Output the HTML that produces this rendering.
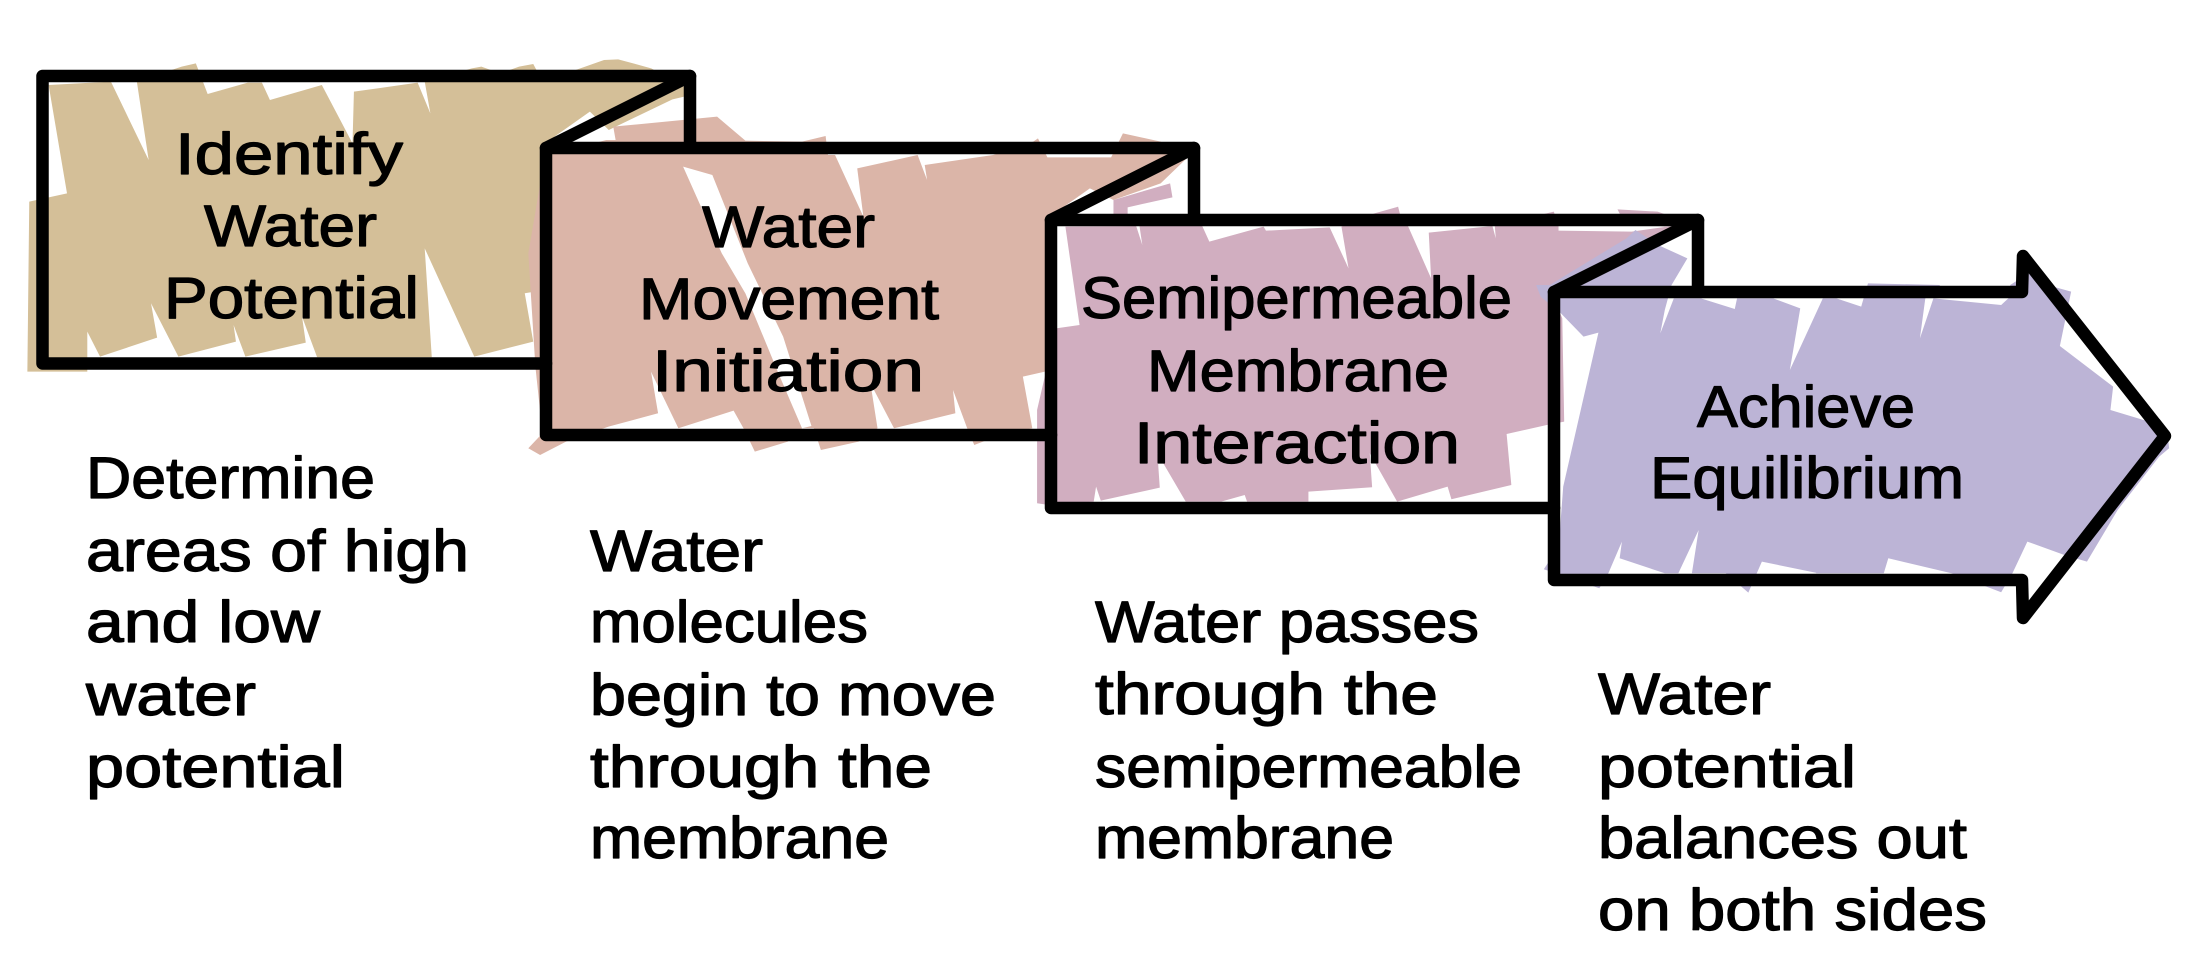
<!DOCTYPE html>
<html>
<head>
<meta charset="utf-8">
<style>
html,body{margin:0;padding:0;background:#fff;width:2208px;height:976px;overflow:hidden}
svg{display:block}
text{font-family:"Liberation Sans",sans-serif;font-size:58px;fill:#000;stroke:#000;stroke-width:1.2;stroke-linejoin:round}
</style>
</head>
<body>
<svg width="2208" height="976" viewBox="0 0 2208 976" xmlns="http://www.w3.org/2000/svg">
<rect width="2208" height="976" fill="#fff"/>

<g transform="translate(0,40) scale(.4719,.3333)">
<polygon fill="#d4bf98" points="103,135 235,125 315,360 290,125 385,80 415,70 430,125 440,162 525,128 555,128 572,180 682,135 747,310 750,155 885,128 912,220 900,125 1000,85 1020,80 1060,100 1100,80 1130,72 1150,125 1280,60 1310,58 1380,85 1450,140 1450,170 1425,178 1290,270 1250,215 1175,290 1200,740 1112,760 1130,905 1005,950 900,625 915,952 672,952 640,830 648,908 520,950 495,855 500,905 378,950 320,790 333,893 212,950 185,875 185,995 58,995 62,485 142,460"/>
</g>

<g transform="translate(500,120) scale(.4719,.3333)">
<polygon fill="#dbb5a8" points="95,110 225,60 245,60 240,20 460,-10 520,62 640,65 690,48 695,105 710,105 770,290 757,145 885,105 905,180 900,135 1045,105 1130,65 1140,55 1160,112 1295,112 1320,40 1400,65 1455,115 1400,190 1300,240 1250,205 1170,285 1170,750 1108,770 1128,925 1060,945 1005,975 990,925 960,810 965,880 835,925 785,790 800,925 760,965 680,990 665,925 640,925 610,965 540,995 518,930 495,872 378,925 320,755 335,880 230,920 140,965 85,1005 60,985 90,940 75,740 60,400"/>
<polygon fill="#fff" points="388,140 450,165 525,430 600,650 660,918 640,925 590,760 520,520 470,400"/>
<polygon fill="#d1aec0" points="1300,240 1420,190 1425,232 1330,262 1330,285 1300,285"/>
</g>

<g transform="translate(1030,190) scale(.4719,.3333)">
<polygon fill="#d1aec0" points="75,110 225,108 238,165 232,108 365,108 380,155 495,110 500,122 635,112 675,235 660,110 730,70 780,50 790,105 800,105 850,265 845,128 980,108 987,145 985,108 1110,65 1120,108 1120,122 1275,125 1360,108 1300,190 1100,290 1128,385 1132,695 1095,705 1010,732 1020,885 893,928 885,890 778,935 720,790 725,892 590,905 590,935 460,935 455,915 405,935 330,935 270,790 275,893 150,932 140,890 135,935 40,945 15,940 15,660 55,415 105,405"/>
<polygon fill="#d1aec0" points="1245,58 1250,72 1300,100 1345,110 1390,95 1330,65"/>
</g>

<g transform="translate(1500,230) scale(.4515,.3333)">
<polygon fill="#bcb4d6" points="110,165 80,165 90,200 135,250 185,320 218,308 140,770 130,950 97,1018 220,1075 240,1030 270,935 265,985 365,1030 395,1030 440,900 425,1030 500,1030 550,1088 580,995 705,1030 710,985 700,1030 850,1030 860,985 1000,1030 1110,1087 1135,1030 1168,935 1250,975 1300,995 1368,840 1460,680 1482,655 1480,630 1450,580 1352,540 1358,470 1240,348 1265,185 1225,170 1170,130 1130,165 1130,200 1110,225 960,205 930,325 942,205 975,165 815,160 800,230 745,205 715,205 642,420 665,235 605,205 525,205 520,237 445,205 385,205 355,310 365,240 380,165 415,85 350,45 300,0 280,25"/>
</g>

<g fill="none" stroke="#000" stroke-width="12.5" stroke-linecap="round" stroke-linejoin="round">
<path d="M546,363.5 L42.5,363.5 L42.5,76 L690,76 L690,145"/>
<path d="M690,76 L546,148"/>
<path d="M1051,435 L546,435 L546,148 L1194,148 L1194,218"/>
<path d="M1194,148 L1051,220"/>
<path d="M1554,508 L1051,508 L1051,220 L1698,220 L1698,290"/>
<path d="M1698,220 L1554,292"/>
<path d="M2022,292 L2023,256 L2165,436 L2023,618 L2022,580 L1554,580 L1554,292 L2022,292"/>
</g>

<text x="175" y="174" textLength="228" lengthAdjust="spacingAndGlyphs">Identify</text>
<text x="204" y="246" textLength="173" lengthAdjust="spacingAndGlyphs">Water</text>
<text x="164" y="318" textLength="255" lengthAdjust="spacingAndGlyphs">Potential</text>

<text x="702" y="247" textLength="173" lengthAdjust="spacingAndGlyphs">Water</text>
<text x="639" y="319" textLength="300" lengthAdjust="spacingAndGlyphs">Movement</text>
<text x="652" y="391" textLength="272" lengthAdjust="spacingAndGlyphs">Initiation</text>

<text x="1081" y="318" textLength="431" lengthAdjust="spacingAndGlyphs">Semipermeable</text>
<text x="1147" y="391" textLength="302" lengthAdjust="spacingAndGlyphs">Membrane</text>
<text x="1134" y="463" textLength="326" lengthAdjust="spacingAndGlyphs">Interaction</text>

<text x="1697" y="427" textLength="218" lengthAdjust="spacingAndGlyphs">Achieve</text>
<text x="1650" y="498" textLength="314" lengthAdjust="spacingAndGlyphs">Equilibrium</text>

<text x="86" y="498" textLength="289" lengthAdjust="spacingAndGlyphs">Determine</text>
<text x="86" y="571" textLength="383" lengthAdjust="spacingAndGlyphs">areas of high</text>
<text x="86" y="642" textLength="234" lengthAdjust="spacingAndGlyphs">and low</text>
<text x="86" y="715" textLength="170" lengthAdjust="spacingAndGlyphs">water</text>
<text x="86" y="787" textLength="259" lengthAdjust="spacingAndGlyphs">potential</text>

<text x="590" y="571" textLength="173" lengthAdjust="spacingAndGlyphs">Water</text>
<text x="590" y="642" textLength="278" lengthAdjust="spacingAndGlyphs">molecules</text>
<text x="590" y="715" textLength="406" lengthAdjust="spacingAndGlyphs">begin to move</text>
<text x="590" y="787" textLength="342" lengthAdjust="spacingAndGlyphs">through the</text>
<text x="590" y="858" textLength="299" lengthAdjust="spacingAndGlyphs">membrane</text>

<text x="1095" y="642" textLength="384" lengthAdjust="spacingAndGlyphs">Water passes</text>
<text x="1095" y="714" textLength="343" lengthAdjust="spacingAndGlyphs">through the</text>
<text x="1095" y="787" textLength="427" lengthAdjust="spacingAndGlyphs">semipermeable</text>
<text x="1095" y="858" textLength="299" lengthAdjust="spacingAndGlyphs">membrane</text>

<text x="1598" y="714" textLength="173" lengthAdjust="spacingAndGlyphs">Water</text>
<text x="1598" y="787" textLength="258" lengthAdjust="spacingAndGlyphs">potential</text>
<text x="1598" y="858" textLength="369" lengthAdjust="spacingAndGlyphs">balances out</text>
<text x="1598" y="930" textLength="389" lengthAdjust="spacingAndGlyphs">on both sides</text>
</svg>
</body>
</html>
